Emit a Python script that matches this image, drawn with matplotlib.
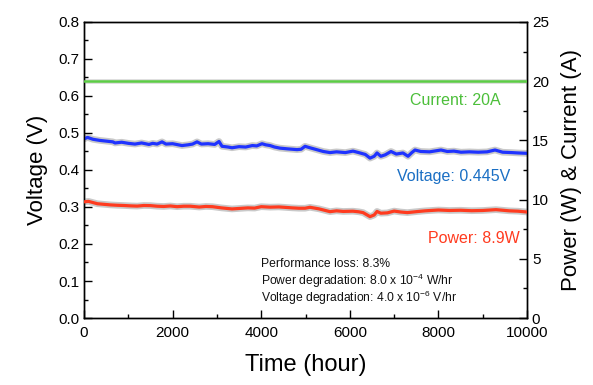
import matplotlib.pyplot as plt
from matplotlib.ticker import MultipleLocator

plt.rcParams['font.family'] = ['Liberation Sans', 'DejaVu Sans']
plt.rcParams['mathtext.fontset'] = 'custom'
plt.rcParams['mathtext.rm'] = 'Liberation Sans'

# voltage trace (V)
volt_hours = [0, 80, 200, 350, 500, 650, 700, 850, 1000, 1150, 1300, 1467, 1550, 1650,
              1761, 1850, 2000, 2212, 2350, 2450, 2551, 2650, 2800, 2950, 3047, 3115,
              3250, 3341, 3500, 3650, 3800, 3900, 4018, 4100, 4200, 4300, 4424, 4600,
              4808, 4900, 4989, 5100, 5250, 5400, 5553, 5700, 5900, 6072, 6200, 6350,
              6456, 6550, 6614, 6700, 6800, 6930, 7050, 7200, 7314, 7400, 7472, 7600,
              7800, 8059, 8200, 8350, 8510, 8700, 8900, 9100, 9278, 9450, 9650, 9800, 10000]
voltage = [0.484, 0.488, 0.483, 0.480, 0.478, 0.476, 0.473, 0.475, 0.472, 0.470, 0.473,
           0.469, 0.472, 0.470, 0.476, 0.470, 0.471, 0.466, 0.468, 0.470, 0.476, 0.470,
           0.471, 0.469, 0.477, 0.464, 0.462, 0.460, 0.463, 0.462, 0.466, 0.465, 0.471,
           0.468, 0.466, 0.462, 0.459, 0.457, 0.455, 0.456, 0.464, 0.460, 0.455, 0.450,
           0.447, 0.449, 0.447, 0.451, 0.447, 0.442, 0.432, 0.437, 0.446, 0.437, 0.441,
           0.450, 0.443, 0.446, 0.437, 0.447, 0.454, 0.450, 0.449, 0.454, 0.450, 0.451,
           0.448, 0.449, 0.448, 0.449, 0.454, 0.448, 0.447, 0.446, 0.445]

# power trace (W)
power_hours = [0, 100, 300, 450, 600, 750, 900, 1050, 1200, 1350, 1500, 1650, 1800, 1950,
               2100, 2250, 2400, 2600, 2750, 2900, 3100, 3341, 3500, 3700, 3850, 4000,
               4200, 4400, 4550, 4700, 4850, 4990, 5100, 5300, 5553, 5700, 5850, 6070,
               6200, 6300, 6456, 6550, 6614, 6700, 6850, 7000, 7150, 7300, 7500, 7700,
               8000, 8250, 8500, 8750, 9000, 9300, 9600, 9800, 10000]
power = [9.81, 9.85, 9.65, 9.60, 9.55, 9.52, 9.50, 9.47, 9.45, 9.50, 9.49, 9.44, 9.42,
         9.46, 9.40, 9.44, 9.44, 9.37, 9.42, 9.40, 9.30, 9.21, 9.25, 9.30, 9.28, 9.40,
         9.36, 9.38, 9.34, 9.30, 9.27, 9.27, 9.35, 9.22, 8.98, 9.05, 9.00, 9.02, 8.97,
         8.90, 8.56, 8.70, 9.00, 8.85, 8.88, 9.03, 8.95, 8.90, 8.98, 9.05, 9.12, 9.08,
         9.10, 9.06, 9.08, 9.15, 9.05, 9.02, 8.95]

current_hours = [0, 10000]
current = [20.0, 20.0]

fig = plt.figure(figsize=(5.93, 3.85), dpi=100)
ax = fig.add_axes([0.1417, 0.174, 0.747, 0.769])
ax2 = ax.twinx()

ax.plot(volt_hours, voltage, color='#888888', lw=4.8, alpha=0.45, zorder=2)
ax.plot(volt_hours, voltage, color='#1f33ff', lw=2.3, zorder=3)

ax2.plot(current_hours, current, color='#aaaaaa', lw=3.5, alpha=0.4, zorder=2)
ax2.plot(current_hours, current, color='#5ccd45', lw=1.8, zorder=3)
ax2.plot(power_hours, power, color='#888888', lw=4.8, alpha=0.45, zorder=2)
ax2.plot(power_hours, power, color='#ff3b1f', lw=2.3, zorder=3)

ax.set_xlim(0, 10000)
ax.set_ylim(0, 0.8)
ax2.set_ylim(0, 25)

ax.xaxis.set_major_locator(MultipleLocator(2000))
ax.xaxis.set_minor_locator(MultipleLocator(1000))
ax.yaxis.set_major_locator(MultipleLocator(0.1))
ax.yaxis.set_minor_locator(MultipleLocator(0.05))
ax2.yaxis.set_major_locator(MultipleLocator(5))
ax2.yaxis.set_minor_locator(MultipleLocator(2.5))
ax.yaxis.set_major_formatter(plt.FormatStrFormatter('%.1f'))

for a in (ax, ax2):
    a.tick_params(which='major', direction='in', length=6, width=1, labelsize=11)
    a.tick_params(which='minor', direction='in', length=3, width=1)
    for s in a.spines.values():
        s.set_linewidth(1)
ax.tick_params(axis='x', pad=6)

ax.set_xlabel('Time (hour)', fontsize=17, labelpad=10)
ax.set_ylabel('Voltage (V)', fontsize=16, labelpad=7)
ax2.set_ylabel('Power (W) & Current (A)', fontsize=16, labelpad=9)

ax.text(0.94, 0.736, 'Current: 20A', transform=ax.transAxes, ha='right', va='center',
        fontsize=11.5, color='#4cbf3a')
ax.text(0.962, 0.477, 'Voltage: 0.445V', transform=ax.transAxes, ha='right', va='center',
        fontsize=11.5, color='#1a6fc4')
ax.text(0.984, 0.27, 'Power: 8.9W', transform=ax.transAxes, ha='right', va='center',
        fontsize=11.5, color='#ff3b1f')

notes = ['Performance loss: 8.3%',
         r'Power degradation: 8.0 x $\mathregular{10^{-4}}$ W/hr',
         r'Voltage degradation: 4.0 x $\mathregular{10^{-6}}$ V/hr']
for i, t in enumerate(notes):
    ax.text(0.40, 0.184 - i * 0.058, t, transform=ax.transAxes, ha='left', va='center',
            fontsize=8.7, color='#111111')

fig.savefig('out.png', dpi=100)
